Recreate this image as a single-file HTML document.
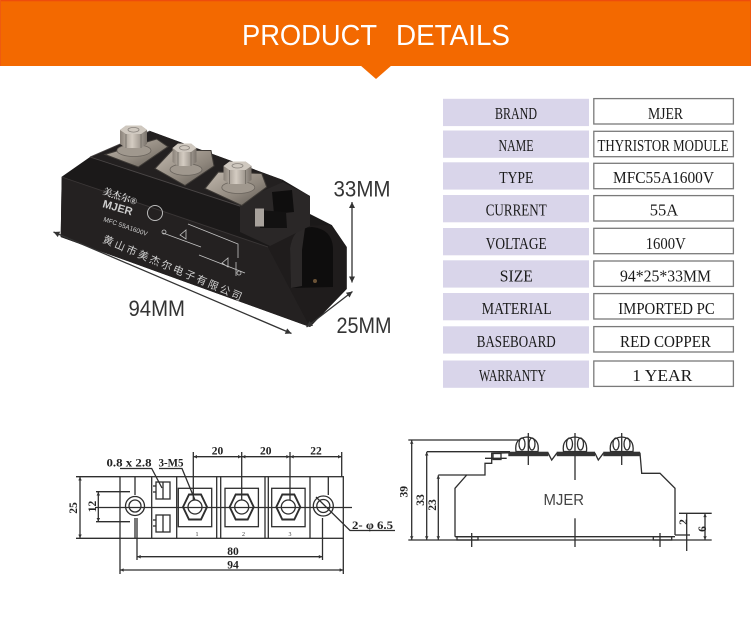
<!DOCTYPE html>
<html><head><meta charset="utf-8">
<style>
html,body{margin:0;padding:0;background:#fff;}
body{width:751px;height:624px;overflow:hidden;position:relative;}
svg{position:absolute;left:0;top:0;}
</style></head>
<body>
<svg width="751" height="624" viewBox="0 0 751 624" xmlns="http://www.w3.org/2000/svg">
<defs>
 <marker id="a1" viewBox="0 0 10 10" refX="10" refY="5" markerWidth="9" markerHeight="6" markerUnits="userSpaceOnUse" orient="auto-start-reverse"><path d="M0,0 L10,5 L0,10 Z" fill="#333"/></marker>
 <marker id="a2" viewBox="0 0 10 10" refX="10" refY="5" markerWidth="6" markerHeight="3.5" markerUnits="userSpaceOnUse" orient="auto-start-reverse"><path d="M0,0 L10,5 L0,10 Z" fill="#333"/></marker>
 <linearGradient id="metal" x1="0" y1="0" x2="1" y2="1"><stop offset="0" stop-color="#c2b9ae"/><stop offset="0.6" stop-color="#8e867c"/><stop offset="1" stop-color="#5e5852"/></linearGradient>
 <linearGradient id="nut" x1="0" y1="0" x2="1" y2="0"><stop offset="0" stop-color="#8a8279"/><stop offset="0.45" stop-color="#d4ccc2"/><stop offset="1" stop-color="#7a736b"/></linearGradient>
</defs>

<!-- HEADER -->
<rect x="0" y="0" width="751" height="66" fill="#f36900"/>
<rect x="0" y="0" width="751" height="1.3" fill="#ee4c0c"/>
<rect x="0" y="0" width="1" height="66" fill="#ef5a10"/>
<rect x="750" y="0" width="1" height="66" fill="#ef5a10"/>
<polygon points="360,65 392,65 376,79" fill="#f36900"/>
<text x="242" y="45" font-family="Liberation Sans, sans-serif" font-size="28.5" fill="#fff" textLength="135" lengthAdjust="spacingAndGlyphs">PRODUCT</text>
<text x="396" y="45" font-family="Liberation Sans, sans-serif" font-size="28.5" fill="#fff" textLength="114" lengthAdjust="spacingAndGlyphs">DETAILS</text>

<!-- TABLE -->
<g font-family="Liberation Serif, serif" font-size="17" fill="#1a1a1a" text-anchor="middle">
 <g>
  <rect x="443" y="98.8" width="146" height="27.3" fill="#d9d5ea"/>
  <rect x="593.8" y="98.6" width="139.6" height="25.4" fill="#fff" stroke="#7a7a7a" stroke-width="1.3"/>
  <text x="516" y="119" textLength="42" lengthAdjust="spacingAndGlyphs">BRAND</text>
  <text x="665.5" y="119" textLength="35" lengthAdjust="spacingAndGlyphs">MJER</text>
 </g>
 <g>
  <rect x="443" y="130.5" width="146" height="27.3" fill="#d9d5ea"/>
  <rect x="593.8" y="131.3" width="139.6" height="25.4" fill="#fff" stroke="#7a7a7a" stroke-width="1.3"/>
  <text x="516" y="151" textLength="35" lengthAdjust="spacingAndGlyphs">NAME</text>
  <text x="663" y="151" textLength="131" lengthAdjust="spacingAndGlyphs">THYRISTOR MODULE</text>
 </g>
 <g>
  <rect x="443" y="162.3" width="146" height="27.3" fill="#d9d5ea"/>
  <rect x="593.8" y="163.3" width="139.6" height="25.4" fill="#fff" stroke="#7a7a7a" stroke-width="1.3"/>
  <text x="516.3" y="183" textLength="34" lengthAdjust="spacingAndGlyphs">TYPE</text>
  <text x="663.5" y="183" textLength="101" lengthAdjust="spacingAndGlyphs">MFC55A1600V</text>
 </g>
 <g>
  <rect x="443" y="195" width="146" height="27.3" fill="#d9d5ea"/>
  <rect x="593.8" y="195.6" width="139.6" height="25.4" fill="#fff" stroke="#7a7a7a" stroke-width="1.3"/>
  <text x="516.2" y="215.5" textLength="61" lengthAdjust="spacingAndGlyphs">CURRENT</text>
  <text x="664" y="215.5" textLength="28.5" lengthAdjust="spacingAndGlyphs">55A</text>
 </g>
 <g>
  <rect x="443" y="228" width="146" height="27.3" fill="#d9d5ea"/>
  <rect x="593.8" y="228.3" width="139.6" height="25.4" fill="#fff" stroke="#7a7a7a" stroke-width="1.3"/>
  <text x="516.2" y="249" textLength="61" lengthAdjust="spacingAndGlyphs">VOLTAGE</text>
  <text x="665.7" y="249" textLength="40" lengthAdjust="spacingAndGlyphs">1600V</text>
 </g>
 <g>
  <rect x="443" y="260.3" width="146" height="27.3" fill="#d9d5ea"/>
  <rect x="593.8" y="261" width="139.6" height="25.4" fill="#fff" stroke="#7a7a7a" stroke-width="1.3"/>
  <text x="516.3" y="281.5" textLength="33" lengthAdjust="spacingAndGlyphs">SIZE</text>
  <text x="665.5" y="281.5" textLength="91" lengthAdjust="spacingAndGlyphs">94*25*33MM</text>
 </g>
 <g>
  <rect x="443" y="293" width="146" height="27.3" fill="#d9d5ea"/>
  <rect x="593.8" y="293.6" width="139.6" height="25.4" fill="#fff" stroke="#7a7a7a" stroke-width="1.3"/>
  <text x="516.7" y="314" textLength="70" lengthAdjust="spacingAndGlyphs">MATERIAL</text>
  <text x="666.5" y="314" textLength="96.5" lengthAdjust="spacingAndGlyphs">IMPORTED PC</text>
 </g>
 <g>
  <rect x="443" y="326.3" width="146" height="27.3" fill="#d9d5ea"/>
  <rect x="593.8" y="326.6" width="139.6" height="25.4" fill="#fff" stroke="#7a7a7a" stroke-width="1.3"/>
  <text x="516.2" y="347" textLength="79" lengthAdjust="spacingAndGlyphs">BASEBOARD</text>
  <text x="665.5" y="347" textLength="91" lengthAdjust="spacingAndGlyphs">RED COPPER</text>
 </g>
 <g>
  <rect x="443" y="360.5" width="146" height="27.3" fill="#d9d5ea"/>
  <rect x="593.8" y="361" width="139.6" height="25.4" fill="#fff" stroke="#7a7a7a" stroke-width="1.3"/>
  <text x="512.5" y="381" textLength="67" lengthAdjust="spacingAndGlyphs">WARRANTY</text>
  <text x="662.3" y="381" textLength="60" lengthAdjust="spacingAndGlyphs">1 YEAR</text>
 </g>
</g>

<!-- PRODUCT PHOTO -->
<g>
 <path d="M60.7,237 L61.7,176.7 L90,157 L150,131 L283,180 L310,196 L310,214 L331.7,225 L346.7,247 L346.7,289 L310,327 Z" fill="#1b1919"/>
 <path d="M61.7,177 L268,247 L310,327 L60.7,237 Z" fill="#242121"/>
 <path d="M268,247 L290,226 L331.7,225 L346.7,247 L346.7,289 L310,327 Z" fill="#1f1c1c"/>
 <path d="M291,288 L290,248 Q293,228 312,227 Q332,229 333,248 L333,287 Z" fill="#0e0d0d"/>
 <path d="M291,288 L290,248 Q293,230 305,228 L302,250 L302,286 Z" fill="#2c2929"/>
 <circle cx="315" cy="281" r="2" fill="#6a5236"/>
 <polygon points="90,157 150,131 283,180 258,212" fill="#232020"/>
 <line x1="90" y1="157" x2="258" y2="212" stroke="#4a4646" stroke-width="0.9"/>
 <line x1="61.7" y1="177" x2="268" y2="247" stroke="#3a3636" stroke-width="0.9"/>
 <line x1="90" y1="157" x2="150" y2="131" stroke="#4a4646" stroke-width="0.8"/>
 <!-- connector housing -->
 <polygon points="240,201 283,182 310,196 310,226 270,246 240,232" fill="#2a2727"/>
 <polygon points="272,192 292,190 294,212 274,214" fill="#0f0e0e"/>
 <polygon points="258,210 286,212 287,228 260,228" fill="#121111"/>
 <rect x="255" y="208.5" width="9" height="18" fill="#a8a29c"/>
 <!-- terminal plates -->
 <polygon points="105,154.5 156.7,139 168,146.7 138.3,167" fill="url(#metal)" stroke="#3e3a36" stroke-width="1"/>
 <polygon points="155,168.5 172,150.5 211,150.5 214,166 185,185.5" fill="url(#metal)" stroke="#3e3a36" stroke-width="1"/>
 <polygon points="205,188.5 218.3,172 261.7,173.5 266.7,187 241.7,205.5" fill="url(#metal)" stroke="#3e3a36" stroke-width="1"/>
 <!-- screw 1 -->
 <ellipse cx="134" cy="150.5" rx="17" ry="6" fill="#a0988e" stroke="#6a645d" stroke-width="0.8"/>
 <path d="M120,130 L126,125.5 L141,125.5 L147,130 L147,144 L141,148 L126,148 L120,144 Z" fill="url(#nut)"/>
 <path d="M120,130 L126,125.5 L141,125.5 L147,130 L141,134 L126,134 Z" fill="#cfc8bf"/>
 <path d="M126,134 L126,148 M141,134 L141,148" stroke="#6f6962" stroke-width="0.8"/>
 <ellipse cx="133.5" cy="129.8" rx="5.5" ry="2.3" fill="none" stroke="#8a847e" stroke-width="0.8"/>
 <!-- screw 2 -->
 <ellipse cx="186" cy="169.5" rx="16" ry="5.8" fill="#a0988e" stroke="#6a645d" stroke-width="0.8"/>
 <path d="M172.5,148 L178,143.5 L191,143.5 L196.5,148 L196.5,162 L191,166 L178,166 L172.5,162 Z" fill="url(#nut)"/>
 <path d="M172.5,148 L178,143.5 L191,143.5 L196.5,148 L191,152 L178,152 Z" fill="#cfc8bf"/>
 <path d="M178,152 L178,166 M191,152 L191,166" stroke="#6f6962" stroke-width="0.8"/>
 <ellipse cx="184.5" cy="147.8" rx="5" ry="2.2" fill="none" stroke="#8a847e" stroke-width="0.8"/>
 <!-- screw 3 -->
 <ellipse cx="238.3" cy="187.5" rx="16.5" ry="6" fill="#a0988e" stroke="#6a645d" stroke-width="0.8"/>
 <path d="M223.5,166 L229.5,161.5 L245.5,161.5 L251.5,166 L251.5,180 L245.5,184 L229.5,184 L223.5,180 Z" fill="url(#nut)"/>
 <path d="M223.5,166 L229.5,161.5 L245.5,161.5 L251.5,166 L245.5,170 L229.5,170 Z" fill="#cfc8bf"/>
 <path d="M229.5,170 L229.5,184 M245.5,170 L245.5,184" stroke="#6f6962" stroke-width="0.8"/>
 <ellipse cx="237.5" cy="165.8" rx="5.5" ry="2.2" fill="none" stroke="#8a847e" stroke-width="0.8"/>
 <!-- front printing -->
 <g fill="#cfcfcf">
  <text x="102" y="194" font-family="Liberation Serif, 'Noto Serif CJK SC', serif" font-size="9.5" font-weight="bold" transform="rotate(18 102 194)">美杰尔®</text>
  <text x="102" y="207" font-family="Liberation Sans, sans-serif" font-size="11" font-weight="bold" transform="rotate(16 102 207)">MJER</text>
  <text x="103" y="221" font-family="Liberation Sans, sans-serif" font-size="6.5" transform="rotate(19 103 221)">MFC 55A1600V</text>
  <text x="102" y="242" font-family="Liberation Sans, 'Noto Sans CJK SC', sans-serif" font-size="10.5" textLength="150" lengthAdjust="spacing" transform="rotate(23 102 242)">黄山市美杰尔电子有限公司</text>
 </g>
 <circle cx="155" cy="213" r="7.5" fill="none" stroke="#bdbdbd" stroke-width="1"/>
 <g stroke="#c4c4c4" stroke-width="0.8" fill="none">
  <path d="M163,233 L201,247 M188,224 L238,244 L238,258 M199,255 L245,273 M180,235 l6,-5 l0,9 z M222,263 l6,-5 l0,9 z M236,262 L236,276"/>
  <circle cx="164" cy="232" r="2"/>
  <circle cx="239" cy="273" r="2"/>
 </g>
 <!-- dimension arrows -->
 <line x1="53.5" y1="232" x2="291.5" y2="333.5" stroke="#333" stroke-width="1.3" marker-start="url(#a1)" marker-end="url(#a1)"/>
 <line x1="352" y1="202" x2="352" y2="282.5" stroke="#333" stroke-width="1.3" marker-start="url(#a1)" marker-end="url(#a1)"/>
 <line x1="306.5" y1="327" x2="352.5" y2="291.5" stroke="#333" stroke-width="1.3" marker-start="url(#a1)" marker-end="url(#a1)"/>
 <g font-family="Liberation Sans, sans-serif" font-size="22" fill="#333">
  <text x="333.5" y="196.5" textLength="57" lengthAdjust="spacingAndGlyphs">33MM</text>
  <text x="128.5" y="316" textLength="56.5" lengthAdjust="spacingAndGlyphs">94MM</text>
  <text x="336.5" y="333" textLength="55" lengthAdjust="spacingAndGlyphs">25MM</text>
 </g>
</g>

<!-- DRAWING 1 (top view) -->
<g stroke="#2e2e2e" stroke-width="1.3" fill="none">
 <rect x="120" y="476.7" width="223.3" height="61.6"/>
 <line x1="151.7" y1="476.7" x2="151.7" y2="538.3"/>
 <line x1="176.7" y1="476.7" x2="176.7" y2="538.3"/>
 <line x1="216.7" y1="476.7" x2="216.7" y2="538.3"/>
 <line x1="220.7" y1="476.7" x2="220.7" y2="538.3"/>
 <line x1="265" y1="476.7" x2="265" y2="538.3"/>
 <line x1="268.3" y1="476.7" x2="268.3" y2="538.3"/>
 <line x1="310" y1="476.7" x2="310" y2="538.3"/>
 <line x1="135" y1="476.7" x2="135" y2="495"/>
 <line x1="135" y1="518" x2="135" y2="538.3"/>
 <line x1="328.3" y1="476.7" x2="328.3" y2="495"/>
 <!-- 25 dim -->
 <line x1="76" y1="476.7" x2="120" y2="476.7"/>
 <line x1="76" y1="538.3" x2="120" y2="538.3"/>
 <line x1="80" y1="477" x2="80" y2="538" marker-start="url(#a2)" marker-end="url(#a2)"/>
 <!-- 12 dim -->
 <line x1="96" y1="491.7" x2="130" y2="491.7"/>
 <line x1="96" y1="521.7" x2="130" y2="521.7"/>
 <line x1="98.3" y1="492" x2="98.3" y2="521.5" marker-start="url(#a2)" marker-end="url(#a2)"/>
 <!-- centerline -->
 <line x1="95" y1="507.5" x2="352" y2="507.5"/>
 <!-- holes -->
 <circle cx="135" cy="506" r="9.5"/>
 <circle cx="135" cy="506" r="6"/>
 <circle cx="323.3" cy="506" r="10"/>
 <circle cx="323.3" cy="506" r="6.5"/>
 <!-- small connectors -->
 <rect x="156" y="482" width="14" height="17"/>
 <rect x="156" y="515" width="14" height="17"/>
 <line x1="163" y1="482" x2="163" y2="499"/>
 <line x1="163" y1="515" x2="163" y2="532"/>
 <line x1="153" y1="486" x2="156" y2="486"/>
 <line x1="153" y1="492" x2="156" y2="492"/>
 <line x1="153" y1="520" x2="156" y2="520"/>
 <line x1="153" y1="526" x2="156" y2="526"/>
 <!-- terminals -->
 <rect x="178.3" y="488.3" width="33.4" height="38.4"/>
 <rect x="225" y="488.3" width="33.4" height="38.4"/>
 <rect x="271.7" y="488.3" width="33.4" height="38.4"/>
 <polygon points="183,507 189,494.5 201,494.5 207,507 201,519.5 189,519.5" stroke-width="1.9"/>
 <polygon points="229.7,507 235.7,494.5 247.7,494.5 253.7,507 247.7,519.5 235.7,519.5" stroke-width="1.9"/>
 <polygon points="276.3,507 282.3,494.5 294.3,494.5 300.3,507 294.3,519.5 282.3,519.5" stroke-width="1.9"/>
 <circle cx="195" cy="507" r="7"/>
 <circle cx="241.7" cy="507" r="7"/>
 <circle cx="288.3" cy="507" r="7"/>
 <!-- top dims -->
 <line x1="193.3" y1="452" x2="193.3" y2="500"/>
 <line x1="241.7" y1="452" x2="241.7" y2="500"/>
 <line x1="290" y1="452" x2="290" y2="500"/>
 <line x1="341.7" y1="452" x2="341.7" y2="477"/>
 <line x1="193.5" y1="456.7" x2="241.5" y2="456.7" marker-start="url(#a2)" marker-end="url(#a2)"/>
 <line x1="241.9" y1="456.7" x2="289.8" y2="456.7" marker-start="url(#a2)" marker-end="url(#a2)"/>
 <line x1="290.2" y1="456.7" x2="341.5" y2="456.7" marker-start="url(#a2)" marker-end="url(#a2)"/>
 <!-- leaders -->
 <polyline points="120,468.5 151.7,468.5 162,488"/>
 <polyline points="159,468.5 182,468.5 195,500"/>
 <polyline points="316,497 350,530.5 395,530.5"/>
 <!-- bottom dims -->
 <line x1="137" y1="518" x2="137" y2="560"/>
 <line x1="322.5" y1="518" x2="322.5" y2="560"/>
 <line x1="137.2" y1="556.7" x2="322.3" y2="556.7" marker-start="url(#a2)" marker-end="url(#a2)"/>
 <line x1="120" y1="538.3" x2="120" y2="574"/>
 <line x1="343.3" y1="538.3" x2="343.3" y2="574"/>
 <line x1="120.2" y1="570" x2="343.1" y2="570" marker-start="url(#a2)" marker-end="url(#a2)"/>
</g>
<g font-family="Liberation Serif, serif" font-size="11.5" font-weight="bold" fill="#222">
 <text x="217.5" y="454.5" text-anchor="middle">20</text>
 <text x="265.8" y="454.5" text-anchor="middle">20</text>
 <text x="316" y="454.5" text-anchor="middle">22</text>
 <text x="106.5" y="466.5" textLength="45" lengthAdjust="spacingAndGlyphs">0.8 x 2.8</text>
 <text x="158.5" y="466.5" textLength="25" lengthAdjust="spacingAndGlyphs">3-M5</text>
 <text x="352" y="529" textLength="41" lengthAdjust="spacingAndGlyphs">2- φ 6.5</text>
 <text x="233" y="555" text-anchor="middle">80</text>
 <text x="233" y="568.5" text-anchor="middle">94</text>
 <text x="0" y="0" text-anchor="middle" transform="translate(77,508) rotate(-90)">25</text>
 <text x="0" y="0" text-anchor="middle" transform="translate(96,506.5) rotate(-90)">12</text>
</g>
<g font-family="Liberation Serif, serif" font-size="6" fill="#333">
 <text x="197" y="536" text-anchor="middle">1</text>
 <text x="243.5" y="536" text-anchor="middle">2</text>
 <text x="290" y="536" text-anchor="middle">3</text>
</g>

<!-- DRAWING 2 (side view) -->
<g stroke="#2e2e2e" stroke-width="1.3" fill="none">
 <path d="M455,536.7 L455,488.3 L466.7,475 L485,475 L485,463.3 L491.7,463.3 L491.7,453.3 L506.7,452.8 L548,452.8 L551.7,460 L556.7,453.3 L595,453.3 L598.3,460 L603.3,453.3 L640,453.3 L641.7,473.3 L660,473.3 L675,488.3 L675,535"/>
 <line x1="455" y1="536.7" x2="675" y2="536.7"/>
 <line x1="408.3" y1="540" x2="711.7" y2="540"/>
 <line x1="485" y1="458.3" x2="506.7" y2="458.3"/>
 <rect x="493" y="453.5" width="8" height="6"/>
 <!-- feet -->
 <rect x="457" y="536.7" width="21" height="3.3"/>
 <rect x="653.3" y="536.7" width="18.4" height="3.3"/>
 <line x1="471.7" y1="533" x2="471.7" y2="547"/>
 <line x1="660" y1="533" x2="660" y2="547"/>
 <line x1="575" y1="518.3" x2="575" y2="547"/>
 <!-- cap centerlines -->
 <line x1="528.3" y1="433" x2="528.3" y2="465"/>
 <line x1="575" y1="433" x2="575" y2="480"/>
 <line x1="621.7" y1="433" x2="621.7" y2="465"/>
 <!-- caps -->
 <path d="M516,451.5 Q514,438 527,437 Q540,438 538,451.5 Z"/>
 <path d="M563.5,451.5 Q561.5,438 575,437 Q588,438 586.5,451.5 Z"/>
 <path d="M610.5,451.5 Q608.5,438 621.7,437 Q634.5,438 633,451.5 Z"/>
 <ellipse cx="522" cy="444" rx="3" ry="6"/>
 <ellipse cx="532" cy="444" rx="3" ry="6"/>
 <ellipse cx="569.5" cy="444" rx="3" ry="6"/>
 <ellipse cx="580.5" cy="444" rx="3" ry="6"/>
 <ellipse cx="616" cy="444" rx="3" ry="6"/>
 <ellipse cx="627" cy="444" rx="3" ry="6"/>
 <!-- dims left -->
 <line x1="408.3" y1="440" x2="518.3" y2="440"/>
 <line x1="411.7" y1="440.3" x2="411.7" y2="539.7" marker-start="url(#a2)" marker-end="url(#a2)"/>
 <line x1="426.7" y1="451.7" x2="510" y2="451.7"/>
 <line x1="426.7" y1="452" x2="426.7" y2="539.7" marker-start="url(#a2)" marker-end="url(#a2)"/>
 <line x1="438.3" y1="475" x2="466.7" y2="475"/>
 <line x1="438.3" y1="475.3" x2="438.3" y2="539.7" marker-start="url(#a2)" marker-end="url(#a2)"/>
 <!-- dims right -->
 <line x1="679" y1="513.3" x2="711.7" y2="513.3"/>
 <line x1="675" y1="535" x2="690" y2="535"/>
 <line x1="686.7" y1="513.3" x2="686.7" y2="551"/>
 <line x1="705" y1="513.6" x2="705" y2="539.7" marker-start="url(#a2)" marker-end="url(#a2)"/>
</g>
<g fill="#333">
 <rect x="508.3" y="451.7" width="40" height="4.5"/>
 <rect x="556.7" y="451.7" width="38.3" height="4.5"/>
 <rect x="603.3" y="451.7" width="36.7" height="4.5"/>
</g>
<g font-family="Liberation Serif, serif" font-size="11.5" font-weight="bold" fill="#222" text-anchor="middle">
 <text x="0" y="0" transform="translate(407.5,491.7) rotate(-90)">39</text>
 <text x="0" y="0" transform="translate(424,500) rotate(-90)">33</text>
 <text x="0" y="0" transform="translate(436,505) rotate(-90)">23</text>
 <text x="0" y="0" transform="translate(687,522) rotate(-90)">2</text>
 <text x="0" y="0" transform="translate(706,529) rotate(-90)">6</text>
</g>
<text x="543.5" y="505" font-family="Liberation Sans, sans-serif" font-size="15.5" fill="#444" textLength="40.5" lengthAdjust="spacingAndGlyphs">MJER</text>
</svg>
</body></html>
